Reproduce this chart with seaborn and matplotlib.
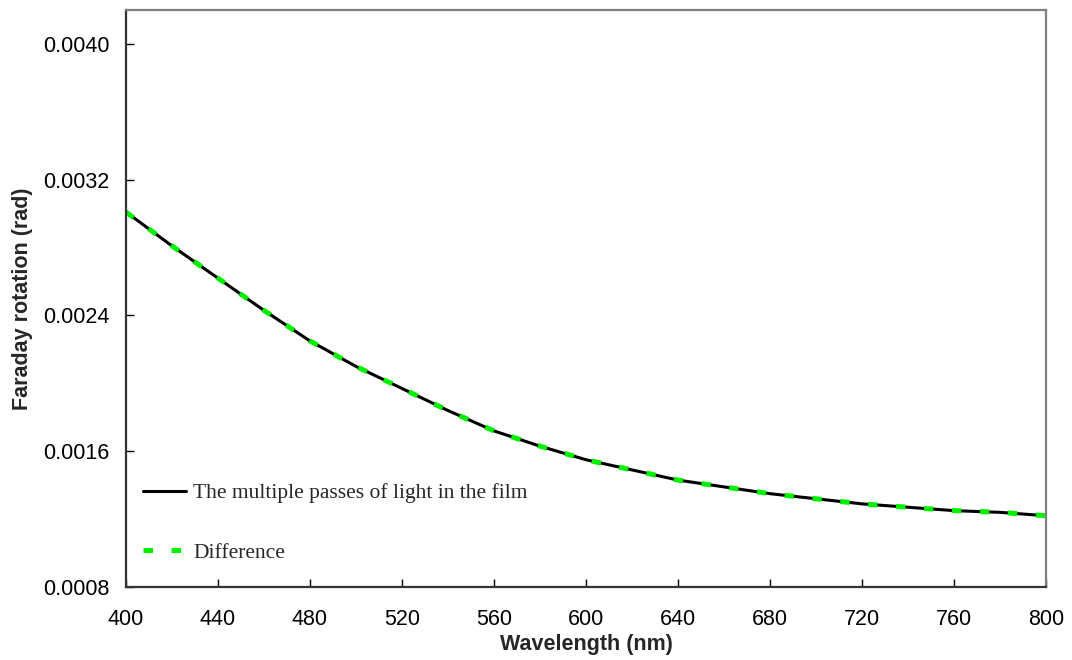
import matplotlib
matplotlib.use("Agg")
import matplotlib.pyplot as plt
import seaborn as sns
import pandas as pd

# Faraday rotation spectrum of the film (rad) versus wavelength (nm)
wavelength = [400, 420, 440, 460, 480, 500, 520, 540, 560, 580, 600,
              620, 640, 660, 680, 700, 720, 740, 760, 780, 800]
multiple_passes = [0.00301, 0.00281, 0.00262, 0.00243, 0.00225, 0.00210,
                   0.00197, 0.00184, 0.00172, 0.00163, 0.00155, 0.00149,
                   0.00143, 0.00139, 0.00135, 0.00132, 0.00129, 0.00127,
                   0.00125, 0.00124, 0.00122]
difference = list(multiple_passes)

x_ticks = [400, 440, 480, 520, 560, 600, 640, 680, 720, 760, 800]
y_ticks = [0.0008, 0.0016, 0.0024, 0.0032, 0.0040]

df = pd.DataFrame({"wavelength": wavelength,
                   "multiple": multiple_passes,
                   "difference": difference})

sns.set_theme(style="white")
plt.rcParams["font.family"] = ["Liberation Sans", "DejaVu Sans"]

fig = plt.figure(figsize=(10.72, 6.6), dpi=100)
ax = fig.add_axes([0.1175, 0.1106, 0.8582, 0.8742])

sns.lineplot(data=df, x="wavelength", y="multiple", ax=ax, color="black",
             linewidth=2.2, label="The multiple passes of light in the film")
sns.lineplot(data=df, x="wavelength", y="difference", ax=ax, color="#00f000",
             linewidth=3.6, dashes=False, label="Difference")
ax.lines[1].set_dashes([1.9, 3.7])

ax.set_xlim(400, 800)
ax.set_ylim(0.0008, 0.0042)
ax.set_xticks(x_ticks)
ax.set_yticks(y_ticks)
ax.set_yticklabels([f"{v:.4f}" for v in y_ticks])
ax.tick_params(axis="both", direction="in", length=6, width=1,
               labelsize=15.5, colors="black", left=True, bottom=True)
ax.tick_params(axis="x", pad=16)
ax.tick_params(axis="y", pad=12)

ax.set_xlabel("Wavelength (nm)", fontsize=15.5, fontweight="bold", labelpad=3)
ax.set_ylabel("Faraday rotation (rad)", fontsize=15.5, fontweight="bold", labelpad=7)

for side in ("left", "bottom"):
    ax.spines[side].set_color("#333333")
    ax.spines[side].set_linewidth(1.6)
for side in ("top", "right"):
    ax.spines[side].set_color("#808080")
    ax.spines[side].set_linewidth(1.6)

leg = ax.legend(loc="lower left", bbox_to_anchor=(-0.003, 0.008), frameon=False,
                prop={"family": "Liberation Serif", "size": 15.5},
                handlelength=2.0, handletextpad=0.35, labelspacing=1.85)

fig.savefig("out.png", dpi=100)
